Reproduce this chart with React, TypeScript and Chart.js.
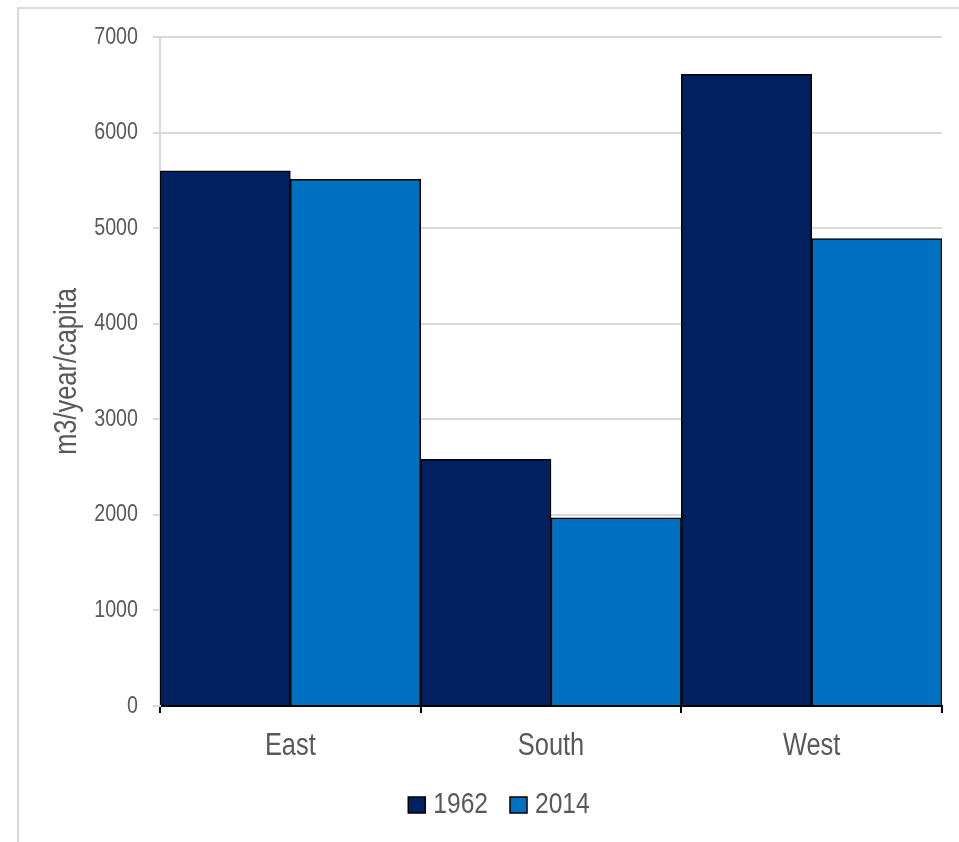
import React, { useEffect, useRef } from "react";
import { Chart, registerables } from "chart.js";

Chart.register(...registerables);

// Water availability per capita by region
const regions = ["East", "South", "West"];
const seriesYears = ["1962", "2014"];
const values1962 = [5600, 2580, 6610];
const values2014 = [5510, 1970, 4890];
const yTicks = [0, 1000, 2000, 3000, 4000, 5000, 6000, 7000];

const NAVY = "#002060";
const BLUE = "#0070C0";
const TEXT = "#595959";
const GRID = "#d9d9d9";
const FONT = "'Liberation Sans', Arial, sans-serif";
// Horizontal squeeze applied to all canvas text, giving an Arial Narrow look
const NARROW = 0.82;

// Legend drawn under the axis: box, gap, label, gap to next item
const legendLayout = { centerX: 499, centerY: 805, box: 17, boxH: 16, textGap: 8, itemGap: 22, size: 30 };

function condenseText(ctx: CanvasRenderingContext2D) {
  const fill = ctx.fillText.bind(ctx);
  const measure = ctx.measureText.bind(ctx);
  ctx.fillText = (text: string, x: number, y: number, maxWidth?: number) => {
    ctx.save();
    ctx.translate(x, y);
    ctx.scale(NARROW, 1);
    if (maxWidth === undefined) fill(text, 0, 0);
    else fill(text, 0, 0, maxWidth / NARROW);
    ctx.restore();
  };
  ctx.measureText = (text: string) => {
    const m = measure(text);
    return {
      width: m.width * NARROW,
      actualBoundingBoxAscent: m.actualBoundingBoxAscent,
      actualBoundingBoxDescent: m.actualBoundingBoxDescent,
      actualBoundingBoxLeft: m.actualBoundingBoxLeft * NARROW,
      actualBoundingBoxRight: m.actualBoundingBoxRight * NARROW,
      fontBoundingBoxAscent: m.fontBoundingBoxAscent,
      fontBoundingBoxDescent: m.fontBoundingBoxDescent,
    } as TextMetrics;
  };
}

const yearLegend = {
  id: "yearLegend",
  afterDraw(chart: any) {
    const ctx: CanvasRenderingContext2D = chart.ctx;
    const L = legendLayout;
    ctx.save();
    ctx.font = `${L.size}px ${FONT}`;
    ctx.textBaseline = "middle";
    ctx.textAlign = "left";
    const items = chart.data.datasets.map((ds: any) => ({
      label: ds.label as string,
      color: ds.backgroundColor as string,
      w: ctx.measureText(ds.label).width,
    }));
    const total =
      items.reduce((s: number, it: any) => s + L.box + L.textGap + it.w, 0) + L.itemGap * (items.length - 1);
    let x = L.centerX - total / 2;
    for (const it of items) {
      ctx.fillStyle = it.color;
      ctx.strokeStyle = "#000000";
      ctx.lineWidth = 1.5;
      ctx.fillRect(x, L.centerY - L.boxH / 2, L.box, L.boxH);
      ctx.strokeRect(x, L.centerY - L.boxH / 2, L.box, L.boxH);
      ctx.fillStyle = TEXT;
      ctx.fillText(it.label, x + L.box + L.textGap, L.centerY);
      x += L.box + L.textGap + it.w + L.itemGap;
    }
    ctx.restore();
  },
};

export default function App() {
  const canvasRef = useRef<HTMLCanvasElement | null>(null);

  useEffect(() => {
    const canvas = canvasRef.current;
    if (!canvas) return;
    const ctx = canvas.getContext("2d");
    if (!ctx) return;
    condenseText(ctx);
    const chart = new Chart(ctx, {
      type: "bar",
      data: {
        labels: regions,
        datasets: [
          {
            label: seriesYears[0],
            data: values1962,
            backgroundColor: NAVY,
            borderColor: "#000000",
            borderWidth: 1.5,
            categoryPercentage: 1,
            barPercentage: 1,
          },
          {
            label: seriesYears[1],
            data: values2014,
            backgroundColor: BLUE,
            borderColor: "#000000",
            borderWidth: 1.5,
            categoryPercentage: 1,
            barPercentage: 1,
          },
        ],
      },
      options: {
        animation: false,
        responsive: false,
        maintainAspectRatio: false,
        layout: { padding: { top: 37, right: 17, left: 0, bottom: 70 } },
        plugins: {
          tooltip: { enabled: false },
          legend: { display: false },
        },
        scales: {
          x: {
            grid: {
              offset: true,
              drawOnChartArea: false,
              drawTicks: true,
              tickLength: 7,
              color: "#000000",
              lineWidth: 2,
            },
            border: { color: "#000000", width: 2 },
            ticks: {
              color: TEXT,
              font: { family: FONT, size: 31 },
              padding: 15,
            },
            afterFit: (scale: any) => {
              scale.height = 66;
            },
          },
          y: {
            min: 0,
            max: 7000,
            afterBuildTicks: (scale: any) => {
              scale.ticks = yTicks.map((v) => ({ value: v }));
            },
            grid: {
              color: GRID,
              lineWidth: 2,
              tickLength: 7,
            },
            border: { color: GRID, width: 2 },
            ticks: {
              color: TEXT,
              font: { family: FONT, size: 24 },
              padding: 15,
              callback: (v: any) => String(v),
            },
            title: {
              display: true,
              text: "m3/year/capita",
              color: TEXT,
              font: { family: FONT, size: 31 },
              padding: { top: 49, bottom: 0 },
            },
            afterFit: (scale: any) => {
              scale.width = 160;
            },
          },
        },
      },
      plugins: [yearLegend],
    });
    return () => chart.destroy();
  }, []);

  return (
    <div style={{ position: "absolute", left: 0, top: 0, width: 959, height: 842, background: "#fff", overflow: "hidden" }}>
      <div
        style={{
          position: "absolute",
          left: 17,
          top: 7,
          width: 960,
          height: 840,
          borderTop: `2px solid ${GRID}`,
          borderLeft: `2px solid ${GRID}`,
          boxSizing: "border-box",
        }}
      />
      <canvas ref={canvasRef} width={959} height={842} style={{ position: "absolute", left: 0, top: 0 }} />
    </div>
  );
}
